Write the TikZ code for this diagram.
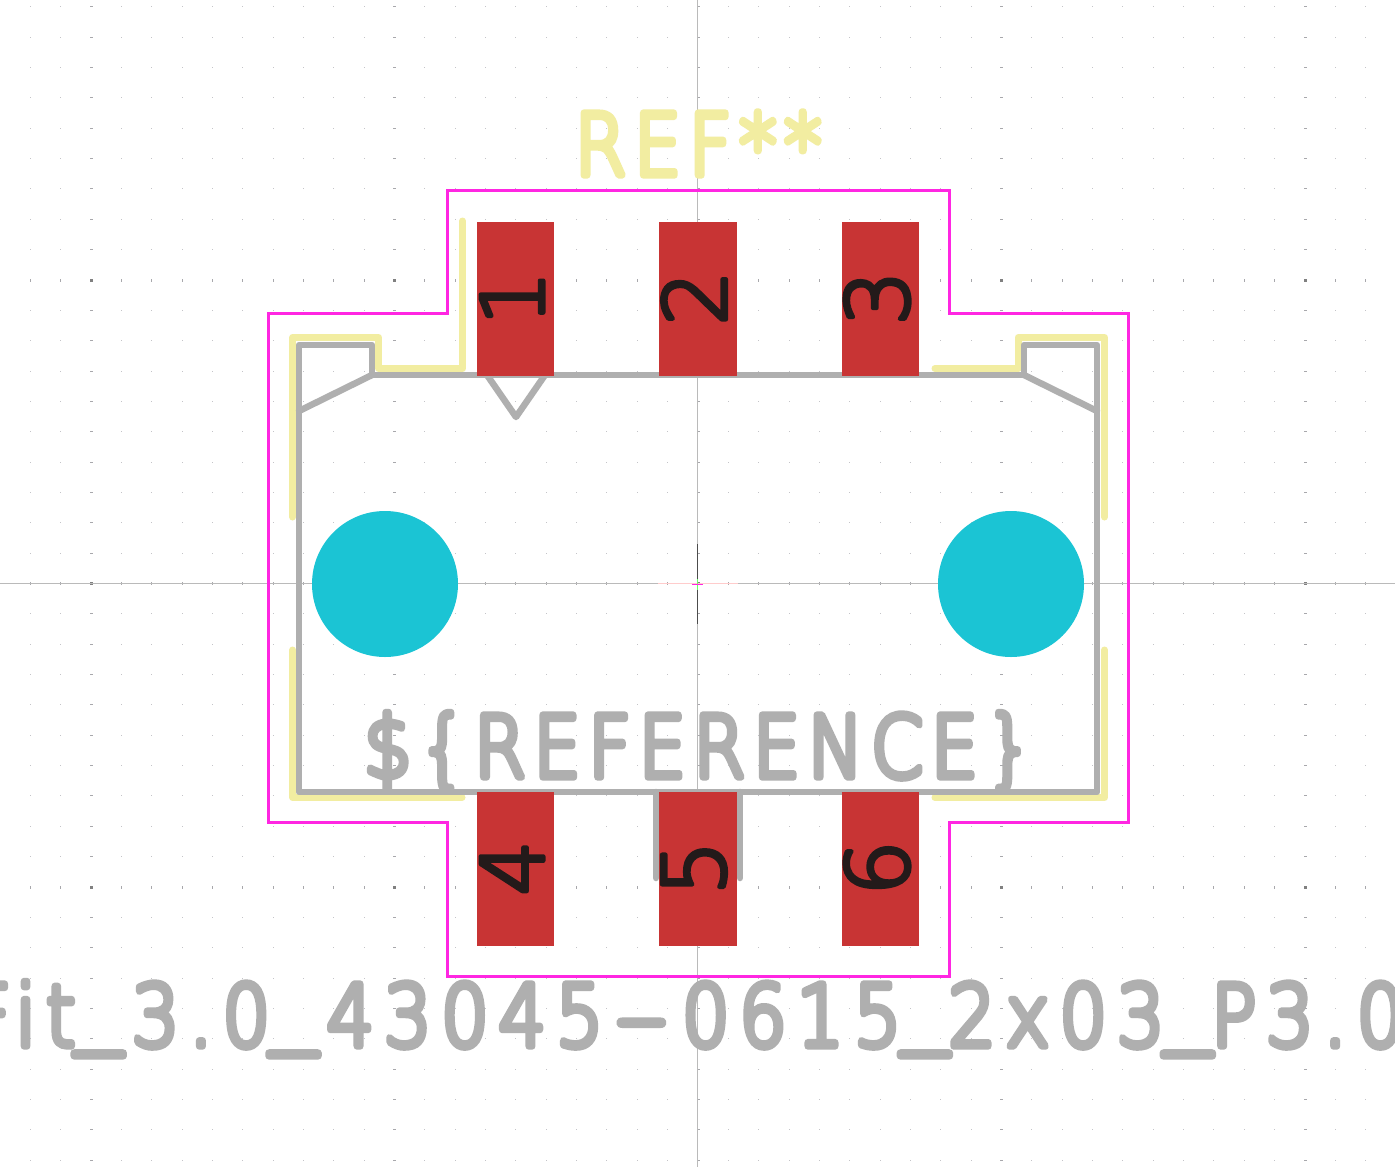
\documentclass[tikz,border=0pt]{standalone}
\usepackage{fontspec}
\setmainfont{DejaVu Sans}
\newfontfamily\strokefont[FakeBold=8.5,LetterSpace=10]{DejaVu Sans ExtraLight}
\newfontfamily\namefont[FakeBold=8.5,LetterSpace=13]{DejaVu Sans ExtraLight}
\newfontfamily\padfont[FakeBold=5]{DejaVu Sans ExtraLight}
\newcommand{\lowbar}{\raisebox{10pt}{\scalebox{1.25}[1]{\_}}}
\newcommand{\longdash}{\scalebox{1.9}[1]{-}}
\definecolor{silk}{HTML}{F2EDA1}
\definecolor{fab}{HTML}{AFAFAF}
\definecolor{crt}{HTML}{FF26E2}
\definecolor{padred}{HTML}{C83434}
\definecolor{hole}{HTML}{1BC4D4}
\definecolor{digit}{HTML}{231A1A}
\definecolor{gridc}{HTML}{C4C4C8}
\definecolor{gridm}{HTML}{A8A8AC}
\tikzset{
  silkline/.style={draw=silk,line width=7pt,line cap=round,line join=round},
  fabline/.style={draw=fab,line width=6.5pt,line cap=round,line join=round},
  crtline/.style={draw=crt,line width=3.3pt,line join=miter},
  padrect/.style={fill=padred},
  padnum/.style={inner sep=0pt,text=digit,line join=round,font=\padfont\fontsize{86}{86}\selectfont,rotate=90},
  fabtext/.style={inner sep=0pt,text=fab,line join=round,line cap=round,xscale=.88,font=\strokefont\fontsize{85}{85}\selectfont},
  nametext/.style={inner sep=0pt,text=fab,line join=round,line cap=round,xscale=.88,font=\namefont\fontsize{85}{85}\selectfont},
  silktext/.style={inner sep=0pt,text=silk,line join=round,line cap=round,xscale=.88,font=\strokefont\fontsize{85}{85}\selectfont},
}
\begin{document}
\begin{tikzpicture}[x=1pt,y=-1pt]
\useasboundingbox (0,0) rectangle (1395,1167);
\clip (0,0) rectangle (1395,1167);
\fill[white] (0,0) rectangle (1395,1167);
% grid
\foreach \i in {-22,...,22}{
  \foreach \j in {-19,...,19}{
    \pgfmathsetmacro{\px}{698+30.35*\i}
    \pgfmathsetmacro{\py}{583.5+30.35*\j}
    \pgfmathtruncatemacro{\mi}{mod(abs(\i),10)==0}
    \pgfmathtruncatemacro{\mj}{mod(abs(\j),10)==0}
    \ifnum\mi=1
      \ifnum\mj=1
        \fill[gray] (\px-1.5,\py-1.5) rectangle (\px+1.5,\py+1.5);
      \else
        \fill[gridm] (\px-1.5,\py-.5) rectangle (\px+1.5,\py+.5);
      \fi
    \else
      \ifnum\mj=1
        \fill[gridm] (\px-.5,\py-1.5) rectangle (\px+.5,\py+1.5);
      \else
        \fill[gridc] (\px-.5,\py-.5) rectangle (\px+.5,\py+.5);
      \fi
    \fi
  }
}
% axes
\draw[black!27,line width=1pt] (697.5,0) -- (697.5,1167);
\draw[black!27,line width=1pt] (0,583.5) -- (1395,583.5);
% anchor cross
\draw[pink!80!white,line width=1pt] (658,583) -- (738,583);
\draw[black!70,line width=1pt] (697.5,544) -- (697.5,579);
\draw[black!70,line width=1pt] (697.5,590) -- (697.5,624);
\draw[green!60!white,line width=1pt] (697.5,579) -- (697.5,590);
\draw[crt,line width=1pt] (692,584) -- (703,584);
% texts on fab layer
\node[fabtext,anchor=base] (reftext) at (698.5,777) {\$\{REFERENCE\}};
\node[nametext,anchor=base west] (nametext) at (-32,1046) {Fit\lowbar\kern11pt 3.0\lowbar\kern11pt 43045\kern14pt\longdash\kern17pt 0615\lowbar 2x03\lowbar P3.0};
% silkscreen
\node[silktext,anchor=base] (refdes) at (698,175) {REF**};
\draw[silkline] (462.5,221) -- (462.5,368.5) -- (378.5,368.5) -- (378.5,337.5) -- (292.7,337.5) -- (292.7,517);
\draw[silkline] (292.7,650) -- (292.7,797.5) -- (462,797.5);
\draw[silkline] (935,368.5) -- (1018,368.5) -- (1018,337.5) -- (1104.5,337.5) -- (1104.5,517);
\draw[silkline] (1104.5,650) -- (1104.5,797.5) -- (935,797.5);
% fab outline
\draw[fabline] (372,375) -- (372,345) -- (299,345) -- (299,792) -- (1097,792) -- (1097,345) -- (1024,345) -- (1024,375) -- cycle;
\draw[fabline] (372,375) -- (299,411);
\draw[fabline] (1024,375) -- (1097,411);
\draw[fabline] (487,375) -- (516,417) -- (545,375);
\draw[fabline] (656,792) -- (656,878);
\draw[fabline] (740,792) -- (740,878);
% courtyard
\draw[crtline] (447.5,190.5) -- (949.5,190.5) -- (949.5,313.5) -- (1128.5,313.5) -- (1128.5,822.5) -- (949.5,822.5) -- (949.5,976.5) -- (447.5,976.5) -- (447.5,822.5) -- (268.5,822.5) -- (268.5,313.5) -- (447.5,313.5) -- cycle;
% holes
\fill[hole] (385,584) circle (73);
\fill[hole] (1011,584) circle (73);
% pads
\foreach \xa/\xb in {477/554,659/737,842/919}{
  \fill[padrect] (\xa,222) rectangle (\xb,376);
  \fill[padrect] (\xa,792) rectangle (\xb,946);
}
\node[padnum] (p1) at (512,298) {1};
\node[padnum] (p2) at (694,298) {2};
\node[padnum] (p3) at (877,298) {3};
\node[padnum] (p4) at (512,868) {4};
\node[padnum] (p5) at (694,868) {5};
\node[padnum] (p6) at (877,868) {6};
\end{tikzpicture}
\end{document}
